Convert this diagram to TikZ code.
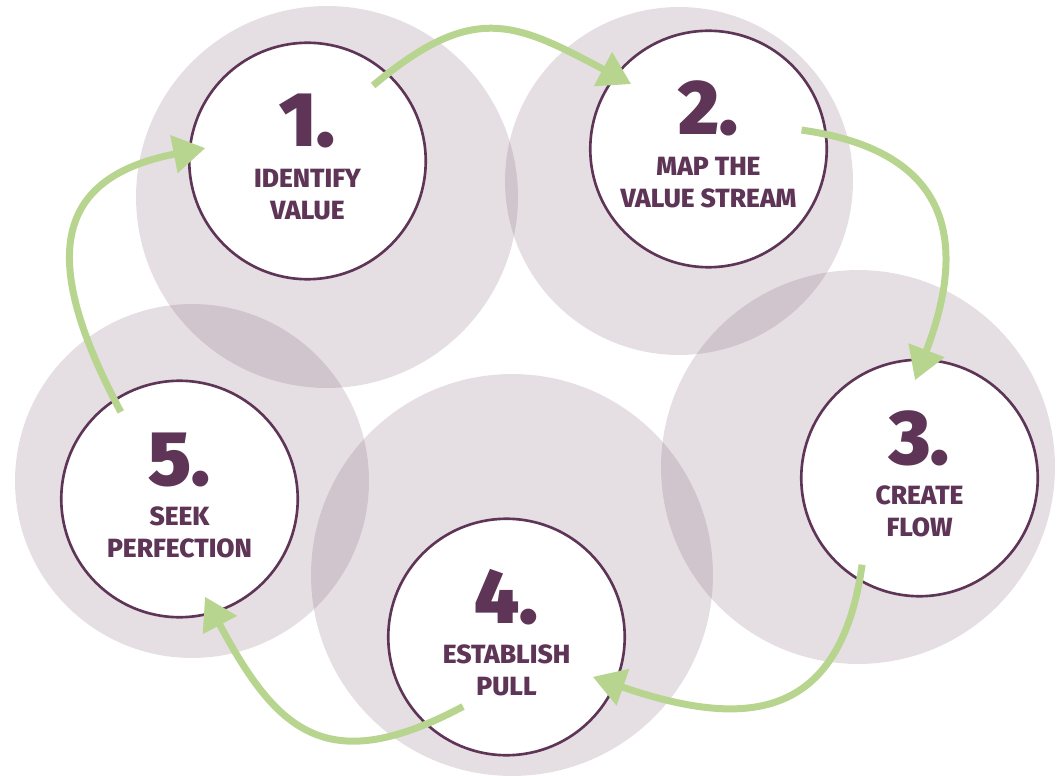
\documentclass[tikz,border=0pt]{standalone}
\usepackage{fontspec}
\setmainfont{Fira Sans}
\newfontfamily\heavyfont{Fira Sans Black}
\newfontfamily\stagefont{Fira Sans ExtraBold}
\usetikzlibrary{calc, arrows.meta}

\begin{document}
\begin{tikzpicture}[x=0.02cm, y=0.02cm,
    halo/.style={circle, fill=stepColour, fill opacity=0.16, inner sep=0pt, minimum size=#1},
    stage/.style={circle, draw=stepColour, line width=1.5pt, fill=white, inner sep=0pt, minimum size=4.73cm},
    num/.style={anchor=base, inner sep=0pt, text=stepColour, font=\heavyfont\fontsize{44}{44}\selectfont},
    caption/.style={anchor=north, align=center, inner sep=0pt, text=stepColour, font=\stagefont\fontsize{15}{18.2}\selectfont},
    flow/.style={draw=flowColour, line width=0.14cm, -{Triangle[width=0.74cm, length=0.64cm]}, looseness=1.4}]
    % Define colors
    \definecolor{stepColour}{HTML}{5E3556}
    \definecolor{flowColour}{HTML}{B8D58F}

    % Fix the page size
    \useasboundingbox (0,0) rectangle (1058,775);

    % Draw background halos
    \node[halo=7.64cm] (b1) at (327,578) {};
    \node[halo=6.96cm] (b2) at (679,594) {};
    \node[halo=7.88cm] (b3) at (858,308) {};
    \node[halo=8.04cm] (b4) at (512,200) {};
    \node[halo=7.08cm] (b5) at (192,294) {};

    % Draw stages
    \node[stage] (s1) at (307.5,614) {};
    \node[stage] (s2) at (708.5,626) {};
    \node[stage] (s3) at (919.5,297) {};
    \node[stage] (s4) at (506.5,138) {};
    \node[stage] (s5) at (179.5,276) {};

    % Label stages
    \foreach \i/\lbl in {1/{IDENTIFY\\VALUE}, 2/{MAP THE\\VALUE STREAM}, 3/{CREATE\\FLOW}, 4/{ESTABLISH\\PULL}, 5/{SEEK\\PERFECTION}} {
        \node[num] (n\i) at ([yshift=0.28cm]s\i.center) {\i.};
        \node[caption] (t\i) at ([yshift=-0.15cm]s\i.center) {\lbl};
    }

    % Draw arrows between stages
    \draw[flow] ($(s1)+(49:100)$) to[out=40, in=152, looseness=1.3] ($(s2)+(140:101)$);
    \draw[flow] ($(s2)+(11.5:95)$) to[out=-8, in=69] ($(s3)+(92.6:98)$);
    \draw[flow] ($(s3)+(236.5:104)$) to[out=-98, in=-19] ($(s4)+(-24.8:95)$);
    \draw[flow] ($(s4)+(238:82)$) to[out=208, in=-62] ($(s5)+(-75.4:101)$);
    \draw[flow] ($(s5)+(124:105)$) to[out=118, in=191, looseness=1.5] ($(s1)+(172.8:103)$);

\end{tikzpicture}
\end{document}
